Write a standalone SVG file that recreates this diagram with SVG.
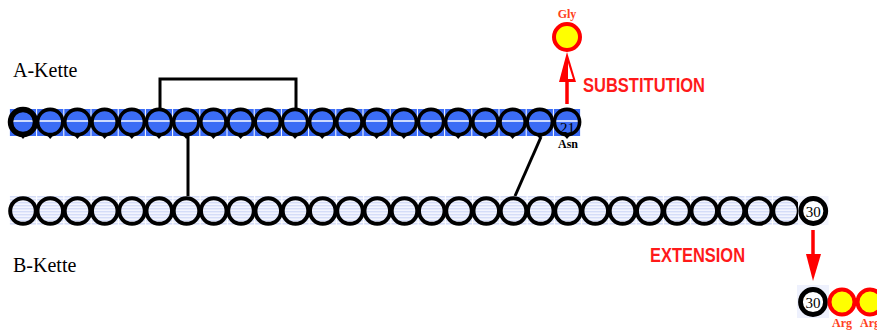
<svg xmlns="http://www.w3.org/2000/svg" width="877" height="331" viewBox="0 0 877 331">
<style>
.as{fill:#3b6cf5}
.bs{fill:url(#stripe)}
.wl{stroke:#ffffff;stroke-width:1.5}
.ac{fill:none;stroke:#000;stroke-width:3.6}
.bc{fill:none;stroke:#000;stroke-width:4}
.tk{fill:#000}
.yc{fill:#ffff00;stroke:#ff0000;stroke-width:4}
.lbl{font-family:"Liberation Serif","Times New Roman",serif;font-size:20px;fill:#000}
.num{font-family:"Liberation Serif","Times New Roman",serif;font-size:15px;fill:#000}
.aa{font-family:"Liberation Serif","Times New Roman",serif;font-size:12px;font-weight:bold}
.big{font-family:"Liberation Sans",Arial,sans-serif;font-size:20px;font-weight:bold;fill:#ff1a1a}
.bond{fill:none;stroke:#000;stroke-width:3}
.arr{stroke:#ff0000;stroke-width:3.5}
</style>
<defs>
<pattern id="stripe" patternUnits="userSpaceOnUse" width="4" height="3">
<rect width="4" height="3" fill="#f3f5fe"/>
<rect width="4" height="1.4" fill="#d5ddf8"/>
</pattern>
<symbol id="anode" overflow="visible">
<rect class="as" x="-13.1" y="-13" width="26.2" height="27"/>
<line class="wl" x1="-13.1" y1="-1" x2="13.1" y2="-1"/>
<circle class="ac" r="12.6"/>
<polygon class="tk" points="-2.5,14 2.5,14 0,17"/>
</symbol>
<symbol id="bnode" overflow="visible">
<rect class="bs" x="-13.1" y="-15" width="26.2" height="29"/>
<circle class="bc" r="12.8"/>
</symbol>
</defs>
<rect width="877" height="331" fill="#fff"/>
<text class="lbl" x="13" y="77">A-Kette</text>
<text class="lbl" x="13" y="272">B-Kette</text>
<g id="connectors">
<polyline class="bond" points="160,108 160,79 296,79 296,108"/>
<line class="bond" x1="188" y1="136" x2="188" y2="197"/>
<line class="bond" x1="541" y1="137" x2="515" y2="196"/>
<line class="arr" x1="567" y1="104" x2="567" y2="80"/>
<polygon points="567,52 559,82 576,82" fill="#ff0000"/>
<polygon points="568,63 568,79 573,79" fill="#ffffff"/>
<line class="arr" x1="813" y1="230" x2="813" y2="256"/>
<polygon points="806,254 821,254 813,281" fill="#ff0000"/>
</g>
<g id="chainA">
<g id="a1"><use href="#anode" x="23" y="122"/><circle cx="23" cy="122" r="12.5" fill="none" stroke="#000" stroke-width="5.5"/></g>
<g id="a2"><use href="#anode" x="50.2" y="122"/></g>
<g id="a3"><use href="#anode" x="77.4" y="122"/></g>
<g id="a4"><use href="#anode" x="104.6" y="122"/></g>
<g id="a5"><use href="#anode" x="131.8" y="122"/></g>
<g id="a6"><use href="#anode" x="159" y="122"/></g>
<g id="a7"><use href="#anode" x="186.2" y="122"/></g>
<g id="a8"><use href="#anode" x="213.4" y="122"/></g>
<g id="a9"><use href="#anode" x="240.6" y="122"/></g>
<g id="a10"><use href="#anode" x="267.8" y="122"/></g>
<g id="a11"><use href="#anode" x="295" y="122"/></g>
<g id="a12"><use href="#anode" x="322.2" y="122"/></g>
<g id="a13"><use href="#anode" x="349.4" y="122"/></g>
<g id="a14"><use href="#anode" x="376.6" y="122"/></g>
<g id="a15"><use href="#anode" x="403.8" y="122"/></g>
<g id="a16"><use href="#anode" x="431" y="122"/></g>
<g id="a17"><use href="#anode" x="458.2" y="122"/></g>
<g id="a18"><use href="#anode" x="485.4" y="122"/></g>
<g id="a19"><use href="#anode" x="512.6" y="122"/></g>
<g id="a20"><use href="#anode" x="539.8" y="122"/></g>
<g id="a21"><use href="#anode" x="567" y="122"/><text class="num" x="560" y="133">21</text><text class="aa" x="558" y="148" fill="#000">Asn</text></g>
</g>
<g id="chainB">
<g id="b1"><use href="#bnode" x="23" y="211"/></g>
<g id="b2"><use href="#bnode" x="50.25" y="211"/></g>
<g id="b3"><use href="#bnode" x="77.5" y="211"/></g>
<g id="b4"><use href="#bnode" x="104.75" y="211"/></g>
<g id="b5"><use href="#bnode" x="132" y="211"/></g>
<g id="b6"><use href="#bnode" x="159.25" y="211"/></g>
<g id="b7"><use href="#bnode" x="186.5" y="211"/></g>
<g id="b8"><use href="#bnode" x="213.75" y="211"/></g>
<g id="b9"><use href="#bnode" x="241" y="211"/></g>
<g id="b10"><use href="#bnode" x="268.25" y="211"/></g>
<g id="b11"><use href="#bnode" x="295.5" y="211"/></g>
<g id="b12"><use href="#bnode" x="322.75" y="211"/></g>
<g id="b13"><use href="#bnode" x="350" y="211"/></g>
<g id="b14"><use href="#bnode" x="377.25" y="211"/></g>
<g id="b15"><use href="#bnode" x="404.5" y="211"/></g>
<g id="b16"><use href="#bnode" x="431.75" y="211"/></g>
<g id="b17"><use href="#bnode" x="459" y="211"/></g>
<g id="b18"><use href="#bnode" x="486.25" y="211"/></g>
<g id="b19"><use href="#bnode" x="513.5" y="211"/></g>
<g id="b20"><use href="#bnode" x="540.75" y="211"/></g>
<g id="b21"><use href="#bnode" x="568" y="211"/></g>
<g id="b22"><use href="#bnode" x="595.25" y="211"/></g>
<g id="b23"><use href="#bnode" x="622.5" y="211"/></g>
<g id="b24"><use href="#bnode" x="649.75" y="211"/></g>
<g id="b25"><use href="#bnode" x="677" y="211"/></g>
<g id="b26"><use href="#bnode" x="704.25" y="211"/></g>
<g id="b27"><use href="#bnode" x="731.5" y="211"/></g>
<g id="b28"><use href="#bnode" x="758.75" y="211"/></g>
<g id="b29"><use href="#bnode" x="786" y="211"/></g>
<g id="b30"><rect x="798" y="196" width="30.5" height="29" fill="#f3f5fe"/><circle cx="813.25" cy="211" r="12.5" fill="#fff" stroke="#000" stroke-width="4.8"/><text class="num" x="813.25" y="217" text-anchor="middle">30</text></g>
</g>
<g id="gly"><circle class="yc" cx="567" cy="37" r="13"/><text class="aa" x="567" y="18" text-anchor="middle" fill="#ff4020">Gly</text></g>
<g id="substitution"><text class="big" x="583" y="92" textLength="122" lengthAdjust="spacingAndGlyphs">SUBSTITUTION</text></g>
<g id="extension"><text class="big" x="650" y="262" textLength="95" lengthAdjust="spacingAndGlyphs">EXTENSION</text></g>
<g id="b30ext"><rect x="797" y="285" width="32" height="33" fill="#eef1fd"/><circle cx="813" cy="302" r="12.5" fill="#fff" stroke="#000" stroke-width="4.8"/><text class="num" x="813" y="308" text-anchor="middle">30</text></g>
<g id="arg1"><circle class="yc" cx="842" cy="302" r="12.5"/><text class="aa" x="842" y="327" text-anchor="middle" fill="#ff4020">Arg</text></g>
<g id="arg2"><circle class="yc" cx="870" cy="302" r="12.5"/><text class="aa" x="870" y="327" text-anchor="middle" fill="#ff4020">Arg</text></g>
</svg>
